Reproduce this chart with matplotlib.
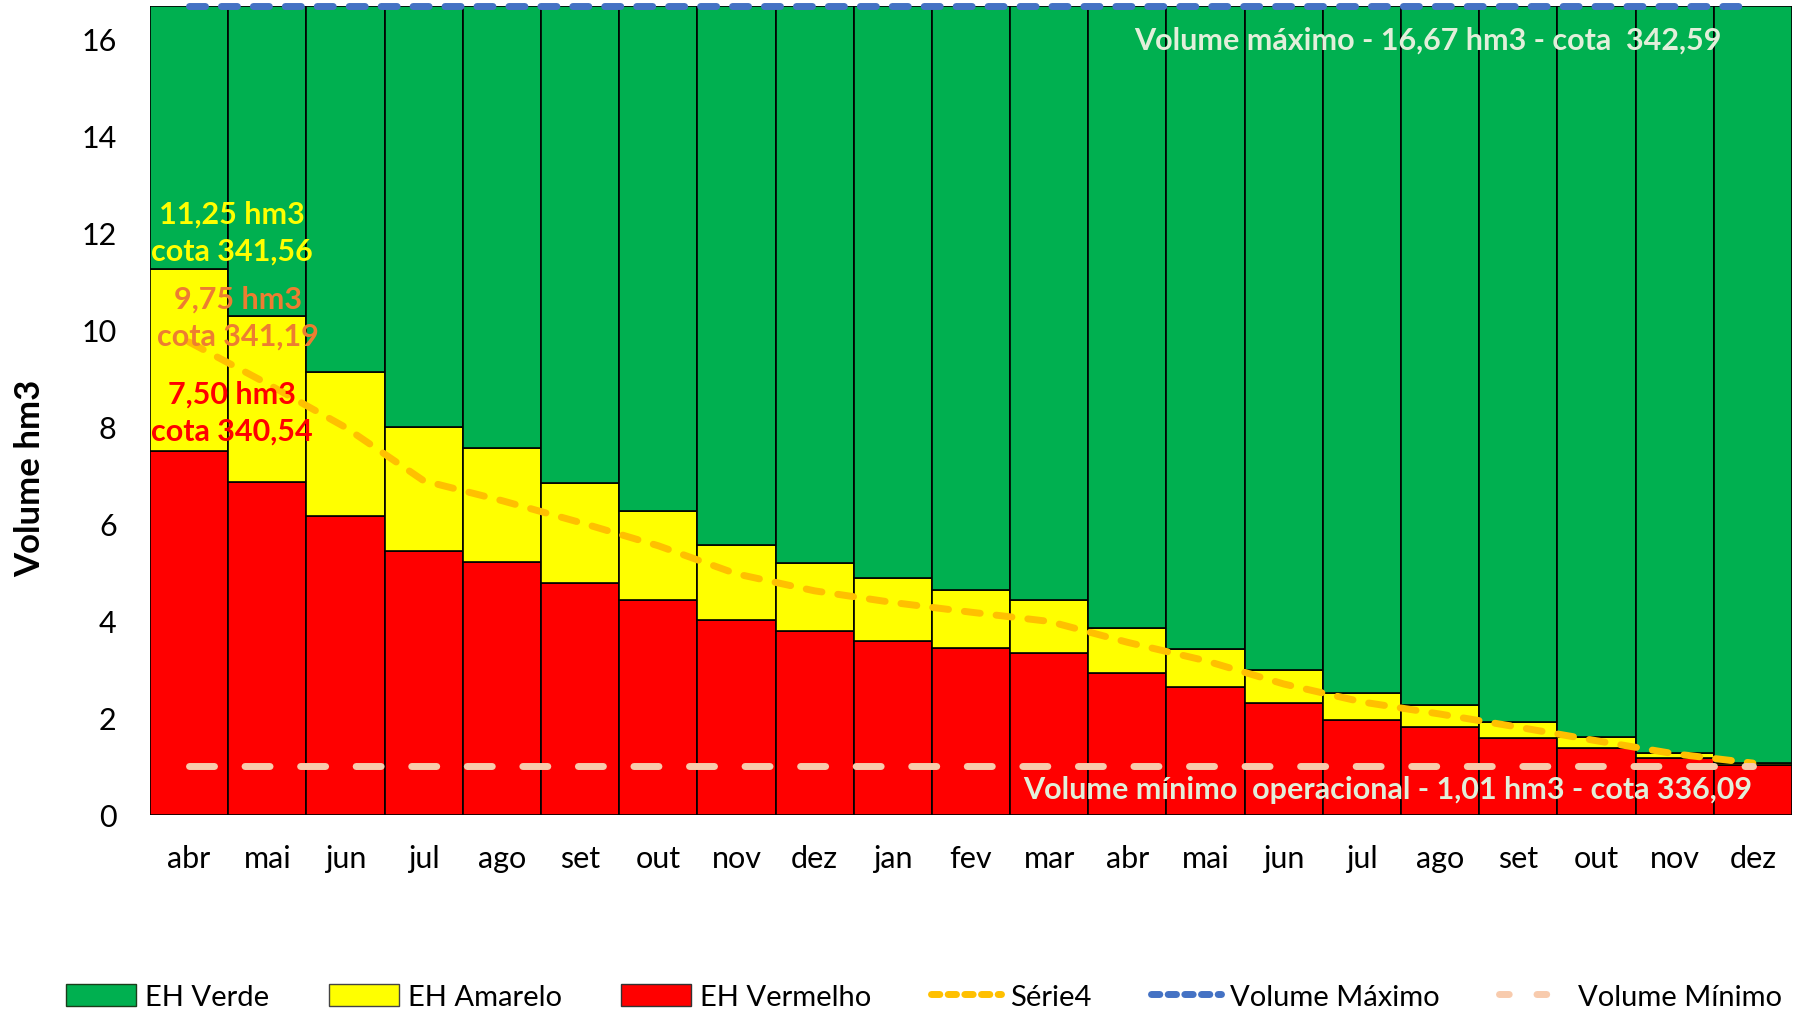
import numpy as np
import matplotlib
matplotlib.use("Agg")
import matplotlib.pyplot as plt
from matplotlib.patches import Patch
from matplotlib.lines import Line2D

plt.rcParams["font.family"] = ["Lato", "DejaVu Sans"]

# months (abr of year 1 to dez of year 2)
months = ["abr", "mai", "jun", "jul", "ago", "set", "out", "nov", "dez", "jan", "fev",
          "mar", "abr", "mai", "jun", "jul", "ago", "set", "out", "nov", "dez"]

# top of red band (EH Vermelho)
vermelho = [7.50, 6.87, 6.16, 5.44, 5.21, 4.78, 4.44, 4.02, 3.80, 3.59, 3.45,
            3.33, 2.93, 2.64, 2.30, 1.96, 1.82, 1.59, 1.38, 1.17, 1.03]
# top of yellow band (EH Amarelo)
amarelo_top = [11.25, 10.28, 9.14, 7.99, 7.56, 6.85, 6.26, 5.57, 5.20, 4.89, 4.64,
               4.43, 3.86, 3.42, 2.99, 2.51, 2.27, 1.92, 1.61, 1.27, 1.07]
serie4 = [9.75, 8.89, 7.99, 6.89, 6.48, 6.03, 5.55, 4.97, 4.62, 4.38, 4.18,
          3.99, 3.56, 3.18, 2.70, 2.33, 2.08, 1.81, 1.53, 1.26, 1.07]
vol_max = 16.67
vol_min = 1.01

red = np.array(vermelho)
yel = np.array(amarelo_top) - red
grn = vol_max - np.array(amarelo_top)
x = np.arange(len(months))

c_green = "#00B050"
c_yellow = "#FFFF00"
c_red = "#FF0000"
c_orange = "#FFC000"
c_blue = "#4472C4"
c_min = "#F8CBAD"
c_txt = "#E2EFDA"

fig = plt.figure(figsize=(18.05, 10.12), dpi=100)
ax = fig.add_axes([0.0831, 0.1937, 0.9097, 0.7991])

ax.bar(x, red, width=1.0, color=c_red, edgecolor="black", linewidth=1.2)
ax.bar(x, yel, width=1.0, bottom=red, color=c_yellow, edgecolor="black", linewidth=1.2)
ax.bar(x, grn, width=1.0, bottom=amarelo_top, color=c_green, edgecolor="black", linewidth=1.2)

ax.plot(x, serie4, color=c_orange, lw=5, dashes=(2.3, 2.3), dash_capstyle="round")
ax.plot(x, [vol_max] * len(x), color=c_blue, lw=5, dashes=(2.3, 2.3),
        dash_capstyle="round", clip_on=False)
ax.plot(x, [vol_min] * len(x), color=c_min, lw=5, dashes=(3.6, 4.4),
        dash_capstyle="round")

ax.set_xlim(-0.5, len(x) - 0.5)
ax.set_ylim(0, vol_max)
ax.set_yticks(np.arange(0, 17, 2))
ax.set_xticks(x)
ax.set_xticklabels(months)
ax.tick_params(axis="both", length=0, labelsize=22)
ax.tick_params(axis="x", pad=21)
ax.tick_params(axis="y", pad=24)
for s in ax.spines.values():
    s.set_visible(False)

ax.set_ylabel("Volume hm3", fontsize=25, fontweight="bold")
ax.yaxis.set_label_coords(-0.063, 0.417)

# annotations
ax.text(0.55, 12.02, "11,25 hm3\ncota 341,56", color=c_yellow, fontsize=22,
        fontweight="bold", ha="center", va="center", linespacing=1.38)
ax.text(0.62, 10.27, "9,75 hm3\ncota 341,19", color="#ED7D31", fontsize=22,
        fontweight="bold", ha="center", va="center", linespacing=1.38)
ax.text(0.55, 8.30, "7,50 hm3\ncota 340,54", color=c_red, fontsize=22,
        fontweight="bold", ha="center", va="center", linespacing=1.38)
ax.text(0.957, 0.959, "Volume máximo - 16,67 hm3 - cota  342,59", color=c_txt,
        fontsize=22, fontweight="bold", ha="right", va="center", transform=ax.transAxes)
ax.text(0.976, 0.032, "Volume mínimo  operacional - 1,01 hm3 - cota 336,09", color=c_txt,
        fontsize=22, fontweight="bold", ha="right", va="center", transform=ax.transAxes)

handles = [
    Patch(facecolor=c_green, edgecolor="#1a3d1a", label="EH Verde"),
    Patch(facecolor=c_yellow, edgecolor="#444444", label="EH Amarelo"),
    Patch(facecolor=c_red, edgecolor="#333333", label="EH Vermelho"),
    Line2D([], [], color=c_orange, lw=5, dashes=(1.2, 1.2), dash_capstyle="round", label="Série4"),
    Line2D([], [], color=c_blue, lw=5, dashes=(1.2, 1.2), dash_capstyle="round", label="Volume Máximo"),
    Line2D([], [], color=c_min, lw=5, dashes=(1.4, 4.0), dash_capstyle="round", label="Volume Mínimo"),
]
fig.legend(handles=handles, loc="center", bbox_to_anchor=(0.512, 0.014), ncol=6,
           frameon=False, fontsize=21, handlelength=2.4, handleheight=0.8,
           handletextpad=0.3, columnspacing=2.05)

fig.savefig("out.png", dpi=100)
